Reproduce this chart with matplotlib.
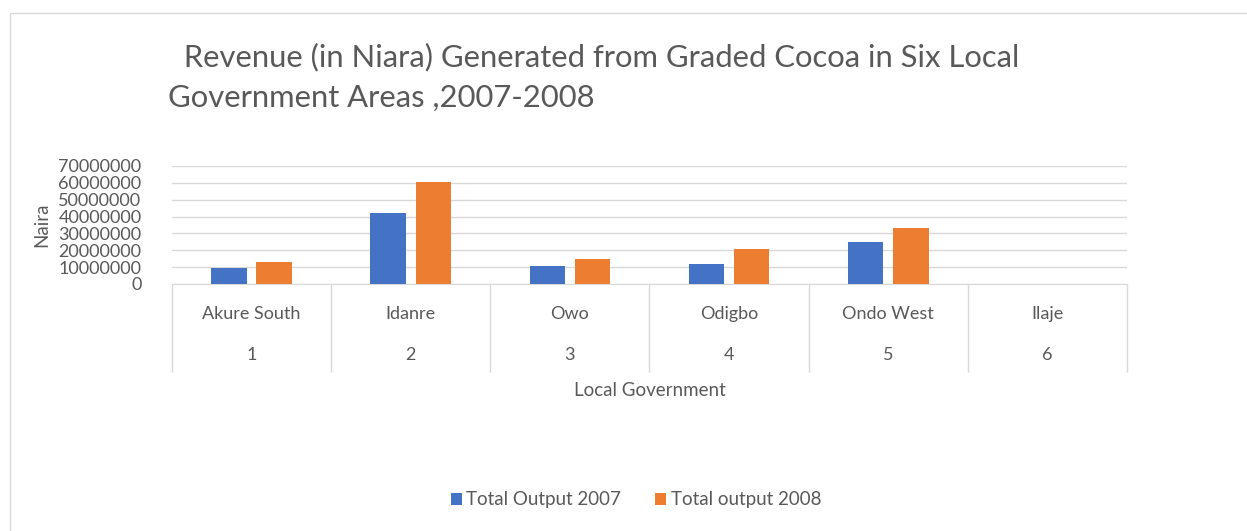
import numpy as np
import matplotlib
matplotlib.use("Agg")
from matplotlib import pyplot as plt
from matplotlib.patches import Rectangle

# data
areas = ["Akure South", "Idanre", "Owo", "Odigbo", "Ondo West", "Ilaje"]
area_ids = ["1", "2", "3", "4", "5", "6"]
output_2007 = [9700000, 42100000, 10700000, 11700000, 24800000, 0]
output_2008 = [12900000, 60500000, 15100000, 20600000, 33500000, 0]
yticks = [0, 10000000, 20000000, 30000000, 40000000, 50000000, 60000000, 70000000]

blue = "#4472C4"
orange = "#ED7D31"
grey_txt = "#595959"
grid_c = "#D9D9D9"

plt.rcParams['font.family'] = ['Lato', 'DejaVu Sans']

fig = plt.figure(figsize=(12.47, 5.31), dpi=100)
fig.patches.append(Rectangle((10/1247, -0.1), 1.2, 1 - 13/531 + 0.1, transform=fig.transFigure,
                             fill=False, edgecolor="#D9D9D9", linewidth=1))
ax = fig.add_axes([172/1247, 1 - 284/531, 955/1247, 118/531])

x = np.arange(len(areas))
w = 0.223
ax.bar(x - 0.142, output_2007, w, color=blue, label="Total Output 2007", zorder=3)
ax.bar(x + 0.142, output_2008, w, color=orange, label="Total output 2008", zorder=3)

ax.set_xlim(-0.5, len(areas) - 0.5)
ax.set_ylim(0, 70000000)
ax.set_yticks(yticks)
ax.set_yticklabels([str(v) for v in yticks], fontsize=13, color=grey_txt)
ax.yaxis.grid(True, color=grid_c, linewidth=1, zorder=0)
ax.tick_params(axis='y', length=0, pad=22)

# category labels (two levels) and separators
ax.set_xticks(x)
ax.set_xticklabels(areas, fontsize=13, color=grey_txt)
ax.tick_params(axis='x', which='major', length=0, pad=15.5)
ax.set_xticks(np.arange(len(areas) + 1) - 0.5, minor=True)
ax.tick_params(axis='x', which='minor', length=63, color=grid_c, width=1)
for xi, lab in zip(x, area_ids):
    ax.annotate(lab, xy=(xi, 0), xycoords=('data', 'axes fraction'), xytext=(0, -71),
                textcoords='offset pixels', ha='center', va='center', fontsize=13, color=grey_txt)

for s in ['top', 'right', 'left']:
    ax.spines[s].set_visible(False)
ax.spines['bottom'].set_color(grid_c)

ax.set_xlabel("Local Government", fontsize=13.5, color=grey_txt)
ax.xaxis.set_label_coords(0.5, -106/118, transform=ax.transAxes)
ax.xaxis.label.set_va('center')
ax.set_ylabel("Naira", fontsize=13.5, color=grey_txt, labelpad=6)

fig.text(168/1247, 1 - 57/531, "  Revenue (in Niara) Generated from Graded Cocoa in Six Local",
         fontsize=22.3, color=grey_txt, va='center', ha='left')
fig.text(168/1247, 1 - 98/531, "Government Areas ,2007-2008",
         fontsize=22.3, color=grey_txt, va='center', ha='left')

fig.legend(loc='center', bbox_to_anchor=(636/1247, 1 - 500/531), ncol=2, frameon=False,
           fontsize=13.5, labelcolor=grey_txt, handlelength=0.6, handleheight=0.6,
           handletextpad=0.25, columnspacing=1.8)

fig.savefig("out.png", dpi=100, facecolor="white")
